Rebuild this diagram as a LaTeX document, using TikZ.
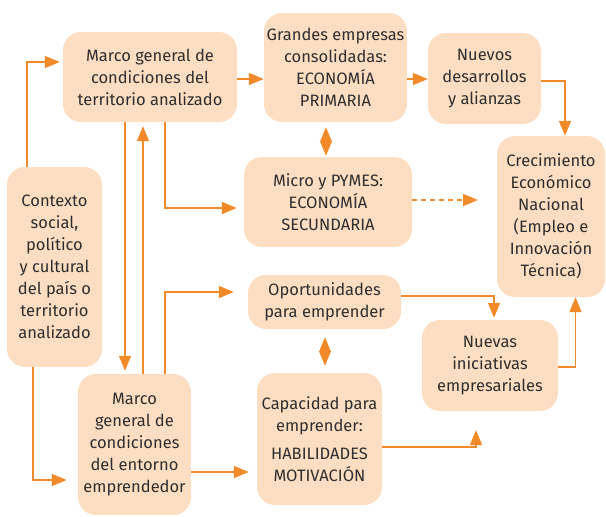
\documentclass[tikz,border=0pt]{standalone}
\usepackage{fontspec}
\setmainfont{Fira Sans}
\usepackage{xcolor}
\usepackage{tikz}
\usetikzlibrary{arrows.meta}

\definecolor{boxfill}{HTML}{FDDEC2}
\definecolor{flowc}{HTML}{F28A2A}
\definecolor{txtc}{HTML}{2E2E2E}

\begin{document}
\begin{tikzpicture}[
        x=1pt, y=-1pt,
        box/.style={rectangle, rounded corners=18pt, fill=boxfill, align=center, text=txtc, inner sep=2pt},
        flow/.style={draw=flowc, line width=1.5pt},
        >={Triangle[length=15pt, width=12pt]},
        font=\fontsize{16.5}{22}\selectfont,
    ]
        \useasboundingbox (0,0) rectangle (606,517);

        \node[box, minimum width=174pt, minimum height=90pt]  (terr)   at (150,77)    {Marco general de\\condiciones del\\territorio analizado};
        \node[box, minimum width=95pt,  minimum height=200pt] (ctx)    at (54.5,267)  {Contexto\\social,\\político\\y cultural\\del país o\\territorio\\analizado};
        \node[box, minimum width=143pt, minimum height=109pt] (gran)   at (335.5,67.5){Grandes empresas\\consolidadas:\\ECONOMÍA\\PRIMARIA};
        \node[box, minimum width=168pt, minimum height=90pt]  (micro)  at (328,202)   {Micro y PYMES:\\ECONOMÍA\\SECUNDARIA};
        \node[box, minimum width=113pt, minimum height=91pt]  (nuevos) at (484.5,78.5){Nuevos\\desarrollos\\y alianzas};
        \node[box, minimum width=108pt, minimum height=161pt] (crec)   at (551,216.5) {Crecimiento\\Económico\\Nacional\\(Empleo e\\Innovación\\Técnica)};
        \node[box, minimum width=153pt, minimum height=54pt]  (oport)  at (324.5,302) {Oportunidades\\para emprender};
        \node[box, minimum width=136pt, minimum height=91pt]  (inic)   at (490,365.5) {Nuevas\\iniciativas\\empresariales};
        \node[box, minimum width=113pt, minimum height=141pt] (ent)    at (134.5,444.5){Marco\\general de\\condiciones\\del entorno\\emprendedor};
        \node[box, minimum width=125pt, minimum height=132pt] (cap)    at (319.5,439) {Capacidad para\\emprender:\\[6pt]HABILIDADES\\MOTIVACIÓN};

        \coordinate (dashend) at (478,200);
        \coordinate (capend)  at (476,430);

        % upper half
        \draw[flow, ->, shorten >=3pt] ([xshift=-27.5pt]ctx.north) |- ([yshift=15pt]terr.west);
        \draw[flow, ->] ([yshift=-2pt]terr.east) -- ([yshift=-2pt]terr.east -| gran.west);
        \draw[flow, ->, shorten >=3pt] ([xshift=-25pt]terr.south) -- ([xshift=-25pt]terr.south |- ent.north);
        \draw[flow, ->, shorten >=4pt] ([xshift=8.5pt]ent.north) -- ([xshift=8.5pt]ent.north |- terr.south);
        \draw[flow, ->, shorten >=7pt] ([xshift=15pt]terr.south) |- ([yshift=-6pt]micro.west);
        \draw[flow, <->, shorten <=1pt, shorten >=5pt] ([xshift=-2pt]micro.north) -- ([xshift=-2pt]micro.north |- gran.south);
        \draw[flow, ->] ([yshift=-11.5pt]gran.east) -- ([yshift=-11.5pt]gran.east -| nuevos.west);
        \draw[flow, ->] ([yshift=-2.5pt]nuevos.east) -| ([xshift=14pt]crec.north);
        \draw[flow, ->, dashed, dash pattern=on 5pt off 4pt] (micro.east |- dashend) -- (dashend);

        % lower half
        \draw[flow, ->, shorten >=11pt] ([xshift=-21.5pt]ctx.south) |- ([yshift=-35.5pt]ent.west);
        \draw[flow, ->, shorten >=14pt] ([xshift=30.5pt]ent.north) |- ([yshift=10pt]oport.west);
        \draw[flow, ->, shorten >=8pt] ([yshift=-27.5pt]ent.east) -- ([yshift=-27.5pt]ent.east -| cap.west);
        \draw[flow, <->, shorten <=8pt, shorten >=7pt] ([xshift=0.5pt]oport.south) -- ([xshift=0.5pt]oport.south |- cap.north);
        \draw[flow, ->, shorten >=2pt] ([yshift=6pt]oport.east) -| ([xshift=4pt]inic.north);
        \draw[flow, ->] ([yshift=-8pt]cap.east) -| (capend);
        \draw[flow, ->] ([yshift=-1.5pt]inic.east) -| ([xshift=24.5pt]crec.south);
    \end{tikzpicture}
\end{document}
